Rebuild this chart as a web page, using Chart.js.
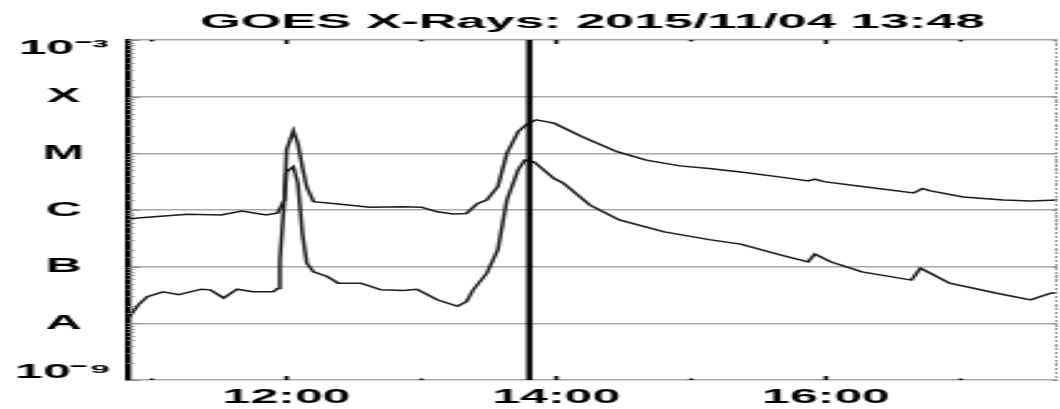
<!DOCTYPE html>
<html>
<head>
<meta charset="utf-8">
<script src="https://cdn.jsdelivr.net/npm/chart.js@4.4.1/dist/chart.umd.min.js"></script>
<style>
  html, body { margin: 0; padding: 0; background: #fff; }
  #c { display: block; width: 1060px !important; height: 409px !important; }
</style>
</head>
<body>
<canvas id="c" width="424" height="409" style="width:1060px;height:409px;display:block"></canvas>
<script>
// ---- data ----
const titleText = 'GOES X-Rays: 2015/11/04 13:48';
const markerTime = '13:48';
const xRange = ['10:49', '17:43'];

// long channel (1-8 Å)
const longTimes = ['10:49','10:51','11:01','11:16','11:31','11:40','11:51','11:56','11:59','12:00','12:03','12:05','12:07','12:09','12:12','12:23','12:37','12:52','13:00','13:07','13:14','13:20','13:25','13:29','13:34','13:38','13:43','13:47','13:51','13:56','13:59','14:11','14:27','14:40','14:55','15:08','15:22','15:40','15:52','15:55','15:59','16:16','16:39','16:43','16:46','17:01','17:19','17:31','17:43'];
const longFlux = [7.0e-7,7.1e-7,7.6e-7,8.4e-7,8.2e-7,9.6e-7,8.2e-7,8.9e-7,1.5e-6,1.15e-5,2.5e-5,1.5e-5,5.7e-6,2.5e-6,1.4e-6,1.28e-6,1.12e-6,1.14e-6,1.12e-6,9.3e-7,8.5e-7,8.7e-7,1.31e-6,1.5e-6,2.6e-6,1.0e-5,2.4e-5,3.3e-5,3.9e-5,3.6e-5,3.4e-5,2.0e-5,1.07e-5,7.6e-6,6.0e-6,5.4e-6,4.7e-6,3.8e-6,3.25e-6,3.5e-6,3.16e-6,2.6e-6,2.0e-6,2.4e-6,2.2e-6,1.7e-6,1.5e-6,1.44e-6,1.5e-6];

// short channel (0.5-4 Å)
const shortTimes = ['10:49','10:54','10:58','11:05','11:12','11:22','11:26','11:32','11:38','11:45','11:54','11:56','11:57','11:59','12:00','12:03','12:05','12:07','12:09','12:12','12:18','12:23','12:33','12:42','12:52','12:58','13:07','13:16','13:20','13:23','13:29','13:34','13:38','13:43','13:46','13:50','13:59','14:03','14:15','14:28','14:48','15:08','15:22','15:40','15:52','15:55','16:02','16:16','16:38','16:42','16:55','17:16','17:31','17:40','17:43'];
const shortFlux = [1.15e-8,2.1e-8,2.95e-8,3.6e-8,3.2e-8,4.0e-8,3.9e-8,2.8e-8,4.0e-8,3.6e-8,3.6e-8,4.1e-8,1.3e-7,1.5e-6,4.7e-6,5.8e-6,3.0e-6,3.9e-7,1.15e-7,8.1e-8,6.7e-8,5.1e-8,5.1e-8,3.9e-8,3.8e-8,4.0e-8,2.6e-8,2.0e-8,2.4e-8,3.9e-8,7.6e-8,2.0e-7,1.5e-6,5.1e-6,7.6e-6,7.1e-6,3.6e-6,3.0e-6,1.22e-6,6.7e-7,4.1e-7,3.0e-7,2.5e-7,1.6e-7,1.22e-7,1.67e-7,1.22e-7,8.1e-8,5.8e-8,9.4e-8,5.1e-8,3.4e-8,2.6e-8,3.4e-8,3.5e-8];

// y-axis class labels by decade exponent
const yTickExps = [-3, -4, -5, -6, -7, -8, -9];
const yTickLabels = ['10⁻³', 'X', 'M', 'C', 'B', 'A', '10⁻⁹'];

// ---- helpers ----
const toMin = s => { const [h, m] = s.split(':').map(Number); return h * 60 + m; };
const pts = (ts, vs) => ts.map((t, i) => ({ x: toMin(t), y: vs[i] }));
const isDecade = v => Math.abs(Math.log10(v) - Math.round(Math.log10(v))) < 1e-6;

const decor = {
  id: 'goesDecor',
  afterDatasetsDraw(chart) {
    const { ctx, chartArea: a, scales: { x, y } } = chart;
    ctx.save();
    // y minor/major ticks (inside, left and right)
    ctx.strokeStyle = '#8a8a8a';
    ctx.lineWidth = 1;
    y.ticks.forEach(t => {
      const py = Math.round(y.getPixelForValue(t.value)) + 0.5;
      const major = isDecade(t.value);
      ctx.beginPath();
      ctx.moveTo(a.left, py); ctx.lineTo(a.left + (major ? 5 : 3), py);
      ctx.moveTo(a.right, py); ctx.lineTo(a.right - (major ? 2 : 1), py);
      ctx.stroke();
    });
    // right border (dotted)
    ctx.setLineDash([2, 2]);
    ctx.strokeStyle = '#9a9a9a';
    ctx.beginPath(); ctx.moveTo(a.right - 0.5, a.top); ctx.lineTo(a.right - 0.5, a.bottom); ctx.stroke();
    ctx.setLineDash([]);
    // x hour ticks (inside, top and bottom)
    ctx.strokeStyle = '#000';
    ctx.lineWidth = 1.6;
    x.ticks.forEach(t => {
      if (t.value % 60 !== 0) return;
      const px = x.getPixelForValue(t.value);
      const len = t.value % 120 === 0 ? 4 : 1.6;
      ctx.beginPath();
      ctx.moveTo(px, a.top); ctx.lineTo(px, a.top + len);
      ctx.moveTo(px, a.bottom); ctx.lineTo(px, a.bottom - len);
      ctx.stroke();
    });
    // current-time marker
    const mx = x.getPixelForValue(toMin(markerTime));
    ctx.lineWidth = 2.4;
    ctx.beginPath(); ctx.moveTo(mx, a.top); ctx.lineTo(mx, a.bottom); ctx.stroke();
    ctx.restore();
  }
};

Chart.defaults.font.family = '"Liberation Sans", Arial, Helvetica, sans-serif';
Chart.defaults.font.weight = 'bold';
Chart.defaults.color = '#000';

new Chart(document.getElementById('c'), {
  type: 'line',
  data: {
    datasets: [
      { label: '1-8 Å', data: pts(longTimes, longFlux), borderColor: '#1c1c1c', borderWidth: 1.5, pointRadius: 0, tension: 0 },
      { label: '0.5-4 Å', data: pts(shortTimes, shortFlux), borderColor: '#1c1c1c', borderWidth: 1.5, pointRadius: 0, tension: 0 }
    ]
  },
  options: {
    responsive: false,
    animation: false,
    devicePixelRatio: 1,
    events: [],
    layout: { padding: { left: 0, right: 1, top: 0, bottom: 0 } },
    plugins: {
      legend: { display: false },
      tooltip: { enabled: false },
      title: {
        display: true,
        text: titleText,
        fullSize: false,
        color: '#000',
        font: { size: 21, weight: 'bold' },
        padding: { top: 10, bottom: 4.8 }
      }
    },
    scales: {
      x: {
        type: 'linear',
        min: toMin(xRange[0]),
        max: toMin(xRange[1]),
        grid: { display: false, drawTicks: false },
        border: { display: false },
        afterFit(s) { s.height = 29; },
        ticks: {
          stepSize: 60,
          includeBounds: false,
          autoSkip: false,
          maxRotation: 0,
          padding: 5,
          font: { size: 20, weight: 'bold' },
          color: '#000',
          callback: v => (v % 120 === 0 ? `${v / 60}:00` : '')
        }
      },
      y: {
        type: 'logarithmic',
        min: 1e-9,
        max: 1e-3,
        afterFit(s) { s.width = 50.8; },
        grid: {
          drawTicks: false,
          lineWidth: 1.6,
          color: c => (c.tick && isDecade(c.tick.value) ? '#a8a8a8' : 'rgba(0,0,0,0)')
        },
        border: { display: true, color: '#000', width: 2.4 },
        ticks: {
          autoSkip: false,
          crossAlign: 'center',
          padding: 6,
          color: '#000',
          font: { size: 20, weight: 'bold', lineHeight: 0.8 },
          callback: v => {
            if (!isDecade(v)) return '';
            const e = Math.round(Math.log10(v));
            const i = yTickExps.indexOf(e);
            if (i < 0) return '';
            if (e === -3) return ['', yTickLabels[i]];
            if (e === -9) return [yTickLabels[i], ''];
            return yTickLabels[i];
          }
        }
      }
    }
  },
  plugins: [decor]
});
</script>
</body>
</html>
